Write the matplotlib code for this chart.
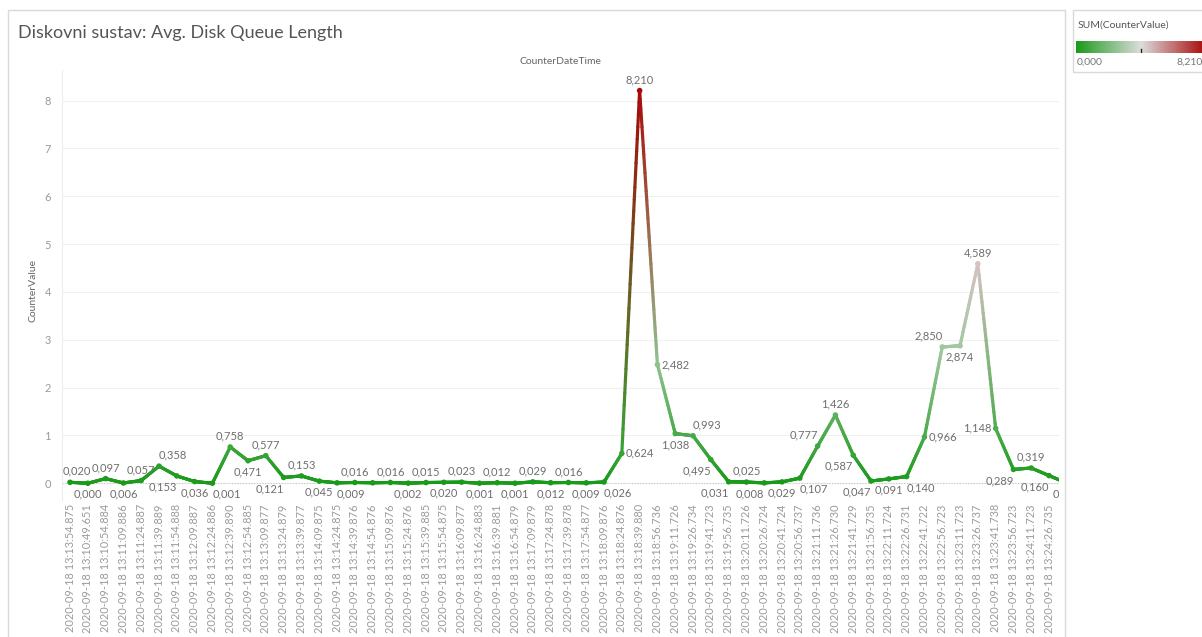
import numpy as np
import matplotlib
matplotlib.use('Agg')
import matplotlib.pyplot as plt
from matplotlib.collections import LineCollection
from matplotlib.colors import LinearSegmentedColormap, Normalize
from matplotlib.patches import Rectangle
from matplotlib.cm import ScalarMappable

plt.rcParams['font.family'] = ['Lato', 'DejaVu Sans']

# vremena mjerenja (os x)
TIMES = [
    '2020-09-18 13:13:54.875', '2020-09-18 13:10:49.651', '2020-09-18 13:10:54.884',
    '2020-09-18 13:11:09.886', '2020-09-18 13:11:24.887', '2020-09-18 13:11:39.889',
    '2020-09-18 13:11:54.888', '2020-09-18 13:12:09.887', '2020-09-18 13:12:24.886',
    '2020-09-18 13:12:39.890', '2020-09-18 13:12:54.885', '2020-09-18 13:13:09.877',
    '2020-09-18 13:13:24.879', '2020-09-18 13:13:39.877', '2020-09-18 13:14:09.875',
    '2020-09-18 13:14:24.875', '2020-09-18 13:14:39.876', '2020-09-18 13:14:54.876',
    '2020-09-18 13:15:09.876', '2020-09-18 13:15:24.876', '2020-09-18 13:15:39.885',
    '2020-09-18 13:15:54.875', '2020-09-18 13:16:09.877', '2020-09-18 13:16:24.883',
    '2020-09-18 13:16:39.881', '2020-09-18 13:16:54.879', '2020-09-18 13:17:09.879',
    '2020-09-18 13:17:24.878', '2020-09-18 13:17:39.878', '2020-09-18 13:17:54.877',
    '2020-09-18 13:18:09.876', '2020-09-18 13:18:24.876', '2020-09-18 13:18:39.880',
    '2020-09-18 13:18:56.736', '2020-09-18 13:19:11.726', '2020-09-18 13:19:26.734',
    '2020-09-18 13:19:41.723', '2020-09-18 13:19:56.735', '2020-09-18 13:20:11.726',
    '2020-09-18 13:20:26.724', '2020-09-18 13:20:41.724', '2020-09-18 13:20:56.737',
    '2020-09-18 13:21:11.736', '2020-09-18 13:21:26.730', '2020-09-18 13:21:41.729',
    '2020-09-18 13:21:56.735', '2020-09-18 13:22:11.724', '2020-09-18 13:22:26.731',
    '2020-09-18 13:22:41.722', '2020-09-18 13:22:56.723', '2020-09-18 13:23:11.723',
    '2020-09-18 13:23:26.737', '2020-09-18 13:23:41.738', '2020-09-18 13:23:56.723',
    '2020-09-18 13:24:11.723', '2020-09-18 13:24:26.735', '2020-09-18 13:24:41.724',
]

# CounterValue
VALUES = [
    0.020, 0.000, 0.097, 0.006, 0.057, 0.358, 0.153, 0.036, 0.001, 0.758,
    0.471, 0.577, 0.121, 0.153, 0.045, 0.009, 0.016, 0.010, 0.016, 0.002,
    0.015, 0.020, 0.023, 0.001, 0.012, 0.001, 0.029, 0.012, 0.016, 0.009,
    0.026, 0.624, 8.210, 2.482, 1.038, 0.993, 0.495, 0.031, 0.025, 0.008,
    0.029, 0.107, 0.777, 1.426, 0.587, 0.047, 0.091, 0.140, 0.966, 2.850,
    2.874, 4.589, 1.148, 0.289, 0.319, 0.160, 0.004,
]

# gdje ide oznaka vrijednosti (iznad / ispod / desno ...)
LABEL_POS = [
    'as', 'b', 'a', 'b', 'a', 'ar', 'bl', 'b', 'br', 'a',
    'b', 'a', 'bl', 'a', 'b', 'br', 'a', None, 'a', 'b',
    'a', 'b', 'a', 'b', 'a', 'b', 'a', 'b', 'a', 'b',
    'br', 'r', 'a', 'r', 'b', 'ar', 'bl', 'bl', 'a', 'bl',
    'b', 'br', 'al', 'a', 'bl', 'bl', 'b', 'br', 'r', 'al',
    'b', 'a', 'l', 'bl', 'a', 'bl', 'b',
]

OFFSETS = {
    'a': (0, 11, 'center'), 'b': (0, -11, 'center'),
    'as': (7, 11, 'center'),
    'ar': (14, 11, 'center'), 'al': (-14, 11, 'center'),
    'br': (14, -11, 'center'), 'bl': (-14, -11, 'center'),
    'r': (4, 0, 'left'), 'l': (-4, 0, 'right'),
}

W, H = 1202, 637
GREY_TXT = '#6e6e6e'

cmap = LinearSegmentedColormap.from_list('rg', ['#1a9a1a', '#dcdcdc', '#a80808'])
norm = Normalize(vmin=min(VALUES), vmax=max(VALUES))

fig = plt.figure(figsize=(W / 100, H / 100), dpi=100)
ax = fig.add_axes([62 / W, 1 - 500 / H, (1059 - 62) / W, (500 - 70) / H])

x = np.arange(len(VALUES))
y = np.array(VALUES)
pt_cols = cmap(norm(y))

# linija: boja segmenta prelazi iz boje jedne tocke u boju druge (kao Tableau)
segs, cols = [], []
for i in range(len(y) - 1):
    xs = np.linspace(x[i], x[i + 1], 31)
    vs = np.linspace(y[i], y[i + 1], 31)
    pts = np.column_stack([xs, vs])
    for j in range(30):
        t = (j + 0.5) / 30
        segs.append(pts[j:j + 2])
        cols.append((1 - t) * pt_cols[i] + t * pt_cols[i + 1])
lc = LineCollection(segs, colors=cols, linewidths=2.3, capstyle='round', zorder=3)
ax.add_collection(lc)
ax.scatter(x, y, s=16, c=pt_cols, zorder=4, linewidths=0)

for i, (v, pos) in enumerate(zip(VALUES, LABEL_POS)):
    if pos is None:
        continue
    dx, dy, ha = OFFSETS[pos]
    t = ax.annotate(f'{v:.3f}'.replace('.', ','), (x[i], v), xytext=(dx, dy),
                    textcoords='offset pixels', ha=ha, va='center',
                    fontsize=8, color=GREY_TXT, annotation_clip=False, zorder=5)
    t.set_clip_on(True)
    t.set_clip_box(ax.bbox)

ax.set_yticks(range(0, 9))
ax.set_xticks(x)
ax.set_xticklabels(TIMES, rotation=90, va='top', ha='center')
ax.set_xlim(-0.45, 55.56)
ax.set_ylim(-0.35, 8.64)
ax.tick_params(axis='x', length=0, pad=3, labelsize=7.9, labelcolor='#9a9a9a')
ax.tick_params(axis='y', length=0, pad=8, labelsize=8, labelcolor='#9a9a9a')
ax.grid(axis='y', color='#f0f0f0', lw=0.8)
ax.set_axisbelow(True)
ax.axhline(0, color='#c8c8c8', ls=(0, (1, 1.5)), lw=0.8, zorder=1)
for s in ['top', 'right', 'bottom']:
    ax.spines[s].set_visible(False)
ax.spines['left'].set_color('#ededed')

fig.text(18 / W, 1 - 33 / H, 'Diskovni sustav: Avg. Disk Queue Length',
         fontsize=13, color='#555555', va='center', ha='left')
fig.text(560 / W, 1 - 62 / H, 'CounterDateTime', fontsize=7.5, color='#666666',
         ha='center', va='center')
fig.text(33 / W, 1 - 290 / H, 'CounterValue', fontsize=7.5, color='#666666',
         ha='center', va='center', rotation=90)

# okviri
fig.add_artist(Rectangle((8 / W, -0.02), (1065 - 8) / W, 1 - 10 / H + 0.02,
                         transform=fig.transFigure, fill=False, ec='#d9d9d9', lw=1))
fig.add_artist(Rectangle((1073 / W, 1 - 72 / H), (1215 - 1073) / W, (72 - 10) / H,
                         transform=fig.transFigure, fill=False, ec='#d9d9d9', lw=1))

# legenda boja
fig.text(1078 / W, 1 - 25 / H, 'SUM(CounterValue)', fontsize=7.5, color='#555555',
         ha='left', va='center')
cax = fig.add_axes([1076 / W, 1 - 53 / H, (1206 - 1076) / W, 12 / H])
cb = fig.colorbar(ScalarMappable(norm=norm, cmap=cmap), cax=cax, orientation='horizontal')
cb.outline.set_visible(False)
cax.set_xticks([])
mid = (min(VALUES) + max(VALUES)) / 2
cax.plot([mid, mid], [0.0, 0.3], color='#222222', lw=1, transform=cax.get_xaxis_transform())
fig.text(1077 / W, 1 - 62 / H, f'{min(VALUES):.3f}'.replace('.', ','), fontsize=7.5,
         color='#777777', ha='left', va='center')
fig.text(1203 / W, 1 - 62 / H, f'{max(VALUES):.3f}'.replace('.', ','), fontsize=7.5,
         color='#777777', ha='right', va='center')

fig.savefig('out.png', dpi=100)
